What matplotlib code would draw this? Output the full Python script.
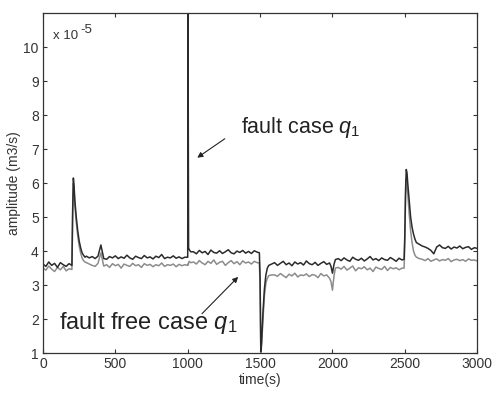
import matplotlib
matplotlib.use("Agg")
import matplotlib.pyplot as plt

plt.rcParams["font.family"] = ["Liberation Sans", "DejaVu Sans"]
plt.rcParams["mathtext.fontset"] = "custom"
plt.rcParams["mathtext.it"] = "Liberation Sans:italic"
plt.rcParams["mathtext.rm"] = "Liberation Sans"

# time axis (s), shared by both records
time_s = [
    0, 20, 40, 60, 80, 100, 120, 140, 160, 180, 200,
    205, 210, 215, 220, 230, 240, 250, 260, 270, 280, 290, 300,
    320, 340, 360, 380, 400, 420, 440, 460, 480, 500, 520, 540, 560, 580,
    600, 620, 640, 660, 680, 700, 720, 740, 760, 780, 800, 820, 840, 860,
    880, 900, 920, 940, 960, 980,
    1000, 1002, 1004, 1006, 1010, 1020,
    1040, 1060, 1080, 1100, 1120, 1140, 1160, 1180, 1200, 1220, 1240, 1260,
    1280, 1300, 1320, 1340, 1360, 1380, 1400, 1420, 1440, 1460, 1480,
    1495, 1500, 1505, 1510, 1520, 1530, 1540, 1550, 1560, 1580,
    1600, 1620, 1640, 1660, 1680, 1700, 1720, 1740, 1760, 1780, 1800, 1820,
    1840, 1860, 1880, 1900, 1920, 1940, 1960, 1980,
    1990, 2000, 2010, 2020,
    2040, 2060, 2080, 2100, 2120, 2140, 2160, 2180, 2200, 2220, 2240, 2260,
    2280, 2300, 2320, 2340, 2360, 2380, 2400, 2420, 2440, 2460, 2480,
    2495, 2500, 2505, 2510, 2515, 2520, 2530, 2540, 2550, 2560, 2570, 2580, 2600,
    2620, 2640, 2660, 2680, 2700, 2720, 2740, 2760, 2780, 2800, 2820, 2840,
    2860, 2880, 2900, 2920, 2940, 2960, 2980, 3000,
]

# flow q1 with fault (x 1e-5 m3/s)
q_fault = [
    3.62, 3.55, 3.68, 3.58, 3.64, 3.52, 3.66, 3.60, 3.55, 3.63, 3.58,
    5.20, 6.15, 5.90, 5.50, 5.00, 4.60, 4.30, 4.10, 3.95, 3.88, 3.82, 3.85,
    3.80, 3.84, 3.78, 3.85, 4.18, 3.78, 3.76, 3.84, 3.80, 3.86, 3.78, 3.83, 3.79, 3.88,
    3.80, 3.76, 3.85, 3.81, 3.78, 3.87, 3.80, 3.83, 3.77, 3.85, 3.81, 3.90, 3.78, 3.82,
    3.80, 3.86, 3.79, 3.83, 3.78, 3.82,
    3.82, 11.0, 7.30, 4.10, 4.05, 3.98,
    3.98, 3.92, 4.02, 3.95, 3.99, 3.90, 4.03, 3.96, 3.94, 4.01, 3.93, 3.98,
    4.04, 3.95, 3.92, 4.00, 3.96, 4.02, 3.94, 3.99, 3.93, 4.01, 3.97,
    3.95, 3.20, 1.05, 1.30, 2.20, 2.90, 3.30, 3.50, 3.58, 3.62,
    3.66, 3.58, 3.64, 3.70, 3.60, 3.65, 3.57, 3.68, 3.62, 3.66, 3.59, 3.71,
    3.63, 3.60, 3.67, 3.58, 3.64, 3.69, 3.61, 3.65,
    3.55, 3.35, 3.60, 3.75,
    3.78, 3.72, 3.80, 3.74, 3.70, 3.82, 3.76, 3.73, 3.79, 3.71, 3.77, 3.84,
    3.74, 3.78, 3.72, 3.80, 3.75, 3.73, 3.81, 3.76, 3.70, 3.79, 3.74,
    3.76, 4.50, 5.80, 6.40, 6.30, 6.00, 5.50, 5.00, 4.70, 4.50, 4.35, 4.25, 4.20,
    4.15, 4.12, 4.08, 4.02, 3.92, 4.12, 4.18, 4.10, 4.08, 4.14, 4.06, 4.12,
    4.09, 4.15, 4.07, 4.11, 4.13, 4.05, 4.10, 4.08,
]

# flow q1 without fault (x 1e-5 m3/s)
q_free = [
    3.50, 3.44, 3.56, 3.47, 3.40, 3.52, 3.45, 3.55, 3.42, 3.48, 3.46,
    5.00, 6.00, 5.80, 5.35, 4.85, 4.45, 4.15, 3.95, 3.80, 3.72, 3.68, 3.66,
    3.62, 3.58, 3.55, 3.64, 3.95, 3.56, 3.60, 3.52, 3.63, 3.57, 3.61, 3.50, 3.62, 3.58,
    3.55, 3.64, 3.57, 3.60, 3.52, 3.63, 3.58, 3.61, 3.54, 3.60, 3.57, 3.65, 3.55, 3.60,
    3.58, 3.62, 3.54, 3.61, 3.57, 3.60,
    3.58, 3.62, 3.60, 3.66, 3.70, 3.66,
    3.68, 3.62, 3.72, 3.65, 3.60, 3.70, 3.64, 3.74, 3.61, 3.67, 3.70, 3.58,
    3.66, 3.72, 3.63, 3.69, 3.60, 3.71, 3.65, 3.68, 3.62, 3.70, 3.66,
    3.65, 3.00, 1.00, 1.20, 2.00, 2.70, 3.05, 3.20, 3.28, 3.30,
    3.30, 3.26, 3.34, 3.28, 3.22, 3.32, 3.27, 3.35, 3.24, 3.30, 3.28, 3.33,
    3.25, 3.31, 3.29, 3.22, 3.34, 3.27, 3.30, 3.20,
    3.10, 2.85, 3.25, 3.50,
    3.52, 3.47, 3.55, 3.44, 3.50, 3.56, 3.42, 3.51, 3.48, 3.54, 3.45, 3.50,
    3.40, 3.53, 3.49, 3.46, 3.55, 3.43, 3.52, 3.48, 3.51, 3.45, 3.50,
    3.50, 4.30, 5.60, 6.10, 6.00, 5.70, 5.10, 4.60, 4.25, 4.00, 3.88, 3.82, 3.78,
    3.76, 3.72, 3.78, 3.70, 3.74, 3.77, 3.71, 3.75, 3.73, 3.78, 3.69, 3.74,
    3.76, 3.72, 3.75, 3.70, 3.77, 3.73, 3.74, 3.71,
]

x_ticks = [0, 500, 1000, 1500, 2000, 2500, 3000]
y_ticks = [1, 2, 3, 4, 5, 6, 7, 8, 9, 10]

fig = plt.figure(figsize=(4.94, 3.95), dpi=100)
ax = fig.add_axes([0.087, 0.106, 0.879, 0.861])

ax.plot(time_s, q_free, color="#8c8c8c", lw=1.1)
ax.plot(time_s, q_fault, color="#2b2b2b", lw=1.1)

ax.set_xlim(0, 3000)
ax.set_ylim(1, 11)
ax.set_xticks(x_ticks)
ax.set_yticks(y_ticks)
ax.tick_params(direction="in", top=True, right=True, length=3, width=0.8,
               labelsize=10, colors="#333333", pad=3)
for sp in ax.spines.values():
    sp.set_color("#333333")
    sp.set_linewidth(0.9)

ax.set_xlabel("time(s)", fontsize=10, color="#333333", labelpad=1)
ax.set_ylabel("amplitude (m3/s)", fontsize=10, color="#333333", labelpad=2)

# exponent label, MATLAB style
ax.text(0.022, 0.932, "x 10", transform=ax.transAxes, fontsize=9.5,
        va="center", ha="left", color="#333333")
ax.text(0.086, 0.950, "-5", transform=ax.transAxes, fontsize=9.5,
        va="center", ha="left", color="#333333")

arrow = dict(arrowstyle="-|>", color="#222222", lw=0.8, mutation_scale=8)
ax.annotate("", xy=(1050, 6.7), xytext=(1272, 7.35), arrowprops=arrow)
ax.text(1370, 7.62, r"fault case $q_1$", fontsize=15.5, va="center",
        ha="left", color="#222222")

ax.annotate("", xy=(1362, 3.3), xytext=(1085, 2.1), arrowprops=arrow)
ax.text(110, 1.88, r"fault free case $q_1$", fontsize=17, va="center",
        ha="left", color="#222222")

fig.savefig("out.png", dpi=100)
